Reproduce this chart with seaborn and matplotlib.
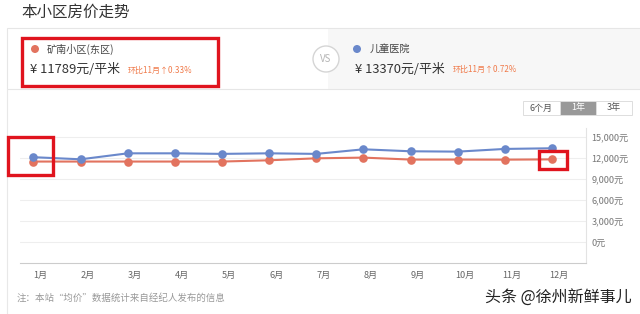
import matplotlib
matplotlib.use("Agg")
import matplotlib.pyplot as plt
import matplotlib.patches as mpatches
import matplotlib.transforms as mtransforms
import seaborn as sns
import pandas as pd

sns.set_theme(style="white")
plt.rcParams['font.family'] = ['Noto Sans CJK SC', 'DejaVu Sans']

# ---- data ----
months = ["1月", "2月", "3月", "4月", "5月", "6月", "7月", "8月", "9月", "10月", "11月", "12月"]
series_a_name = "矿南小区(东区)"
series_b_name = "儿童医院"
series_a = [11480, 11480, 11480, 11480, 11480, 11660, 11940, 12040, 11760, 11760, 11750, 11789]
series_b = [12100, 11800, 12650, 12650, 12570, 12650, 12570, 13220, 12940, 12890, 13274, 13370]
y_ticks = [0, 3000, 6000, 9000, 12000, 15000]
y_tick_labels = ["0元", "3,000元", "6,000元", "9,000元", "12,000元", "15,000元"]
price_a = "¥ 11789元/平米"
price_b = "¥ 13370元/平米"
change_a = "环比11月↑0.33%"
change_b = "环比11月↑0.72%"
buttons = ["6个月", "1年", "3年"]

RED = "#E2735F"
BLUE = "#6A88CB"
W, H = 640, 314

def fx(x):
    return x / W

def fy(y):
    return 1 - y / H

fig = plt.figure(figsize=(6.4, 3.14), dpi=100)
fig.patch.set_facecolor("white")

def rect(x0, y0, x1, y1, **kw):
    p = mpatches.Rectangle((fx(x0), fy(y1)), fx(x1) - fx(x0), fy(y0) - fy(y1),
                           transform=fig.transFigure, **kw)
    fig.add_artist(p)
    return p

# title
fig.text(fx(21), fy(12), "本小区房价走势", fontsize=11.2, color="#333333", va="center", ha="left")

# card
rect(328, 28, 640, 89, facecolor="#f7f7f7", edgecolor="none")
rect(7, 28, 641, 89, facecolor="none", edgecolor="#e6e6e6", linewidth=0.8)
# VS circle
vs = mpatches.Ellipse((fx(326), fy(59)), 26 / W, 26 / H, transform=fig.transFigure,
                      facecolor="white", edgecolor="#d5d5d5", linewidth=1.0)
fig.add_artist(vs)
fig.text(fx(326), fy(59), "VS", fontsize=7, color="#b5b5b5", ha="center", va="center")

# left entry
dot_a = mpatches.Ellipse((fx(35), fy(49)), 8 / W, 8 / H, transform=fig.transFigure,
                         facecolor=RED, edgecolor="none")
fig.add_artist(dot_a)
fig.text(fx(47), fy(49), series_a_name, fontsize=7.3, color="#444444", va="center", ha="left")
fig.text(fx(30), fy(70), price_a, fontsize=9.3, color="#333333", va="center", ha="left")
fig.text(fx(128), fy(70.5), change_a, fontsize=5.8, color="#F07A4A", va="center", ha="left")

# right entry
dot_b = mpatches.Ellipse((fx(357), fy(49)), 8 / W, 8 / H, transform=fig.transFigure,
                         facecolor=BLUE, edgecolor="none")
fig.add_artist(dot_b)
fig.text(fx(370), fy(49), series_b_name, fontsize=7.3, color="#444444", va="center", ha="left")
fig.text(fx(355), fy(69), price_b, fontsize=9.3, color="#333333", va="center", ha="left")
fig.text(fx(453), fy(69.5), change_b, fontsize=5.8, color="#F07A4A", va="center", ha="left")

# red highlight box in card
rect(22, 38, 218, 86, facecolor="none", edgecolor="#E0141E", linewidth=2.4, zorder=10)

# outer left border of chart panel
fig.add_artist(plt.Line2D([fx(7), fx(7)], [fy(89), fy(314)], transform=fig.transFigure,
                          color="#e8e8e8", linewidth=0.8))

# buttons
bx = [523, 560, 596, 632]
for i, lab in enumerate(buttons):
    sel = (i == 1)
    rect(bx[i], 101, bx[i + 1], 115, facecolor="#999999" if sel else "white",
         edgecolor="#dddddd", linewidth=0.7)
    fig.text(fx((bx[i] + bx[i + 1]) / 2), fy(108), lab, fontsize=6.5,
             color="white" if sel else "#555555", ha="center", va="center")

# ---- main chart ----
ax = fig.add_axes([fx(20), fy(263), fx(586) - fx(20), fy(128) - fy(263)])
ax.set_facecolor("none")
df = pd.DataFrame({
    "idx": list(range(len(months))) * 2,
    "price": series_a + series_b,
    "series": [series_a_name] * len(months) + [series_b_name] * len(months),
})
sns.lineplot(data=df, x="idx", y="price", hue="series",
             palette={series_a_name: RED, series_b_name: BLUE},
             marker="o", markersize=6.2, markeredgewidth=0, linewidth=1.5,
             legend=False, ax=ax, zorder=3)
ax.set_xlim(-0.286, 11.72)
ax.set_ylim(-2943, 16250)
ax.set_xlabel("")
ax.set_ylabel("")

ax.set_xticks(range(len(months)))
ax.set_xticklabels(months, fontsize=6.6, color="#666666")
ax.set_yticks(y_ticks)
ax.set_yticklabels(y_tick_labels, fontsize=6.6, color="#777777")
ax.yaxis.tick_right()
ax.tick_params(axis="both", length=0)
ax.tick_params(axis="x", pad=5.5)
ax.tick_params(axis="y", pad=4)
offset = mtransforms.ScaledTranslation(7 / 100, 0, fig.dpi_scale_trans)
for lbl in ax.get_xticklabels():
    lbl.set_transform(lbl.get_transform() + offset)
for lbl in ax.get_yticklabels():
    lbl.set_horizontalalignment("left")

ax.grid(axis="y", color="#eeeeee", linewidth=0.8)
ax.grid(axis="x", visible=False)
ax.set_axisbelow(True)
for side in ["top", "left"]:
    ax.spines[side].set_visible(False)
ax.spines["bottom"].set_color("#cccccc")
ax.spines["bottom"].set_linewidth(0.8)
ax.spines["right"].set_color("#e3e3e3")
ax.spines["right"].set_linewidth(0.8)

# red highlight boxes on chart
rect(8, 137, 53, 175, facecolor="none", edgecolor="#E0141E", linewidth=2.4, zorder=10)
rect(539, 151, 567, 169, facecolor="none", edgecolor="#E0141E", linewidth=2.4, zorder=10)

# footnote and watermark
fig.text(fx(17), fy(298), "注：本站“均价”数据统计来自经纪人发布的信息", fontsize=6.8,
         color="#999999", va="center", ha="left")
fig.text(fx(632), fy(297), "头条 @徐州新鲜事儿", fontsize=11.5, color="#222222",
         va="center", ha="right")

fig.savefig("out.png", dpi=100)
